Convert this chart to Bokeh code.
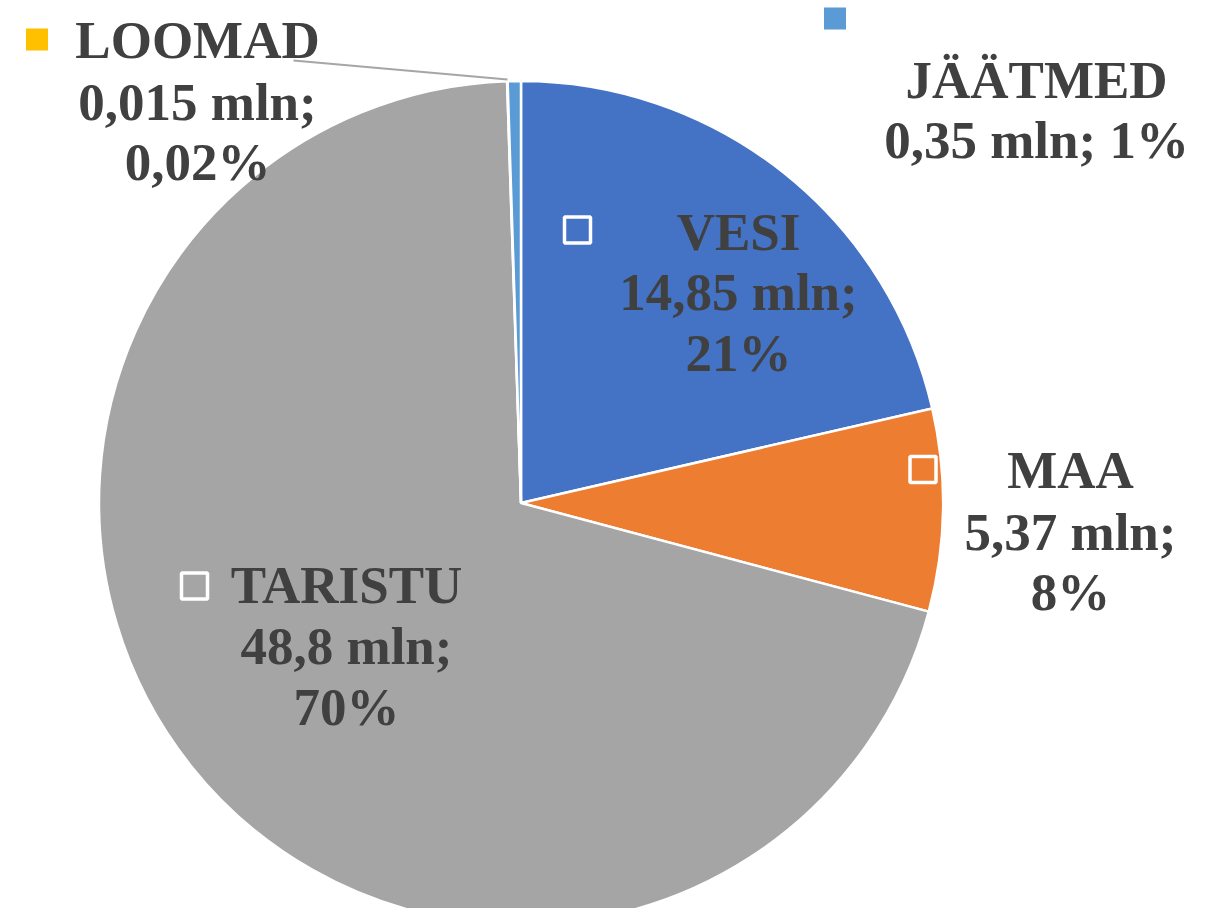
import math
from bokeh.plotting import figure
from bokeh.models import Range1d
from bokeh.core.properties import value
from bokeh.embed import file_html
from bokeh.resources import INLINE

# ---- data ----
categories = ["VESI", "MAA", "TARISTU", "LOOMAD", "JÄÄTMED"]
values = [14.85, 5.37, 48.8, 0.015, 0.35]
value_labels = ["14,85", "5,37", "48,8", "0,015", "0,35"]
pct_labels = ["21%", "8%", "70%", "0,02%", "1%"]
colors = ["#4472C4", "#ED7D31", "#A5A5A5", "#FFC000", "#5B9BD5"]

# ---- layout (reference pixel coordinates, y downwards) ----
H = 924
def Y(y):
    return H - y

p = figure(width=1191, height=908, output_backend="svg", toolbar_location=None,
           x_range=Range1d(0, 1191), y_range=Range1d(16, 924),
           x_axis_location=None, y_axis_location=None, min_border=0)
p.grid.visible = False
p.outline_line_color = None
p.background_fill_color = "white"
p.border_fill_color = "white"

cx, cy, r = 520.5, 502.5, 422
total = sum(values)
starts, ends = [], []
acc = 0.0
for v in values:
    a0 = math.pi / 2 - (acc + v) / total * 2 * math.pi
    a1 = math.pi / 2 - acc / total * 2 * math.pi
    starts.append(a0)
    ends.append(a1)
    acc += v

p.wedge(x=[cx] * len(values), y=[Y(cy)] * len(values), radius=r,
        start_angle=starts, end_angle=ends, fill_color=colors,
        line_color="white", line_width=2.5)

# leader line for LOOMAD
p.line(x=[293, 507], y=[Y(60), Y(79)], line_color="#A6A6A6", line_width=2)

# label layout: center x, baselines, key square
label_layout = {
    "VESI": dict(cx=738, base=[252, 312, 373], key=(577, 229.5), filled=False),
    "MAA": dict(cx=1070, base=[490, 552, 612], key=(922.5, 469), filled=False),
    "TARISTU": dict(cx=346, base=[605, 666, 727], key=(194, 585.5), filled=False),
    "LOOMAD": dict(cx=197, base=[60, 122, 182], key=(36.5, 39), filled=True),
    "JÄÄTMED": dict(cx=1036, base=[100, 160], key=(834.5, 18), filled=True),
}
BASE_FIX = 21  # renderer places alphabetic baseline lower than requested

tx, ty, tt = [], [], []
for vi, (cat, pct, col) in enumerate(zip(categories, pct_labels, colors)):
    lay = label_layout[cat]
    if len(lay["base"]) == 3:
        lines = [cat, value_labels[vi] + " mln;", pct]
    else:
        lines = [cat, value_labels[vi] + " mln; " + pct]
    for ln, b in zip(lines, lay["base"]):
        tx.append(lay["cx"])
        ty.append(Y(b - BASE_FIX))
        tt.append(ln)
    kx, ky = lay["key"]
    if lay["filled"]:
        p.rect(x=[kx], y=[Y(ky)], width=22, height=22, fill_color=col, line_color=None)
    else:
        p.rect(x=[kx], y=[Y(ky)], width=26, height=26, fill_color=None,
               line_color="white", line_width=3.5)

p.text(x=tx, y=ty, text=tt, text_align="center", text_baseline="alphabetic",
       text_font=value("Liberation Serif"), text_font_style="bold",
       text_font_size="53px", text_color="#404040")

open("out.html", "w").write(file_html(p, INLINE))
